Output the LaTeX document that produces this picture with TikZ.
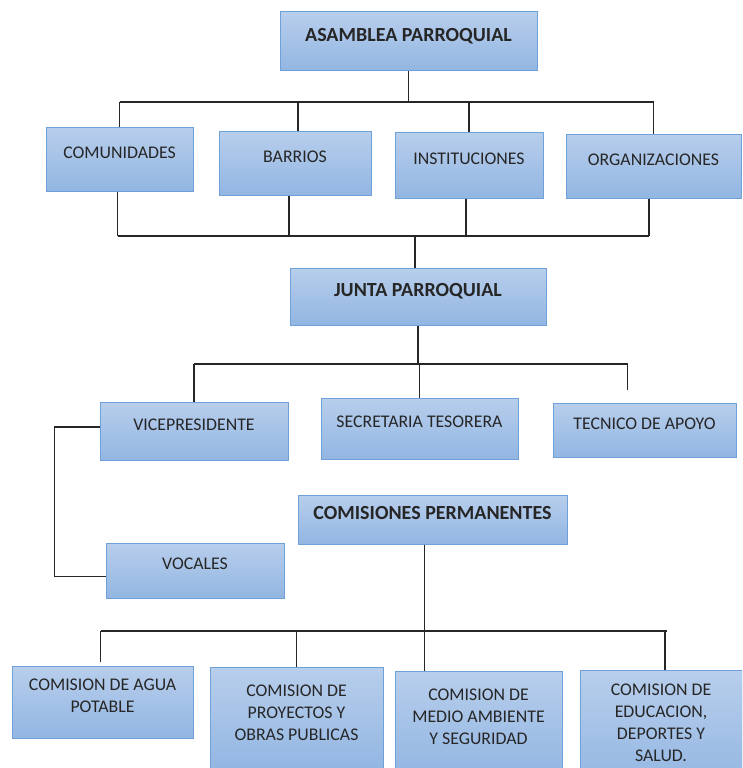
\documentclass[tikz,border=0pt]{standalone}
\usepackage{fontspec}
\setmainfont{Carlito}
\usetikzlibrary{positioning}

\definecolor{boxtop}{RGB}{184,206,236}
\definecolor{boxbottom}{RGB}{146,182,226}
\definecolor{boxline}{RGB}{110,160,218}

\begin{document}
\begin{tikzpicture}[
	x=1pt,
	y=-1pt,
	line width=1.3pt,
	every node/.style={font=\fontsize{17.8}{22}\selectfont}
]

\tikzstyle{org}  = [rectangle, draw=boxline, line width=1pt, top color=boxtop, bottom color=boxbottom,
                    inner sep=0pt, align=center, text depth=13pt, text=black!85];
\tikzstyle{head} = [org, font=\fontsize{20}{24}\selectfont\bfseries];
\tikzstyle{link} = [draw=black!85, line width=1.3pt];

\useasboundingbox[fill=white] (0,0) rectangle (742,768);
\clip (0,0) rectangle (742,768);

 \node [head, minimum width=257, minimum height=59]  (asamblea)       at (408.5,41.5) {ASAMBLEA PARROQUIAL};
 \node [org,  minimum width=147, minimum height=64]  (comunidades)    at (119.5,159)  {COMUNIDADES};
 \node [org,  minimum width=152, minimum height=64]  (barrios)        at (295,163)    {BARRIOS};
 \node [org,  minimum width=148, minimum height=66]  (instituciones)  at (469,165)    {INSTITUCIONES};
 \node [org,  minimum width=175, minimum height=64]  (organizaciones) at (653.5,166)  {ORGANIZACIONES};
 \node [head, minimum width=256, minimum height=57]  (junta)          at (418,296.5)  {JUNTA PARROQUIAL};
 \node [org,  minimum width=188, minimum height=58]  (vice)           at (194,431)    {VICEPRESIDENTE};
 \node [org,  minimum width=197, minimum height=61]  (secretaria)     at (419.5,428.5){SECRETARIA TESORERA};
 \node [org,  minimum width=183, minimum height=54]  (tecnico)        at (644.5,430)  {TECNICO DE APOYO};
 \node [head, minimum width=269, minimum height=49]  (comisiones)     at (432.5,519.5){COMISIONES PERMANENTES};
 \node [org,  minimum width=178, minimum height=55]  (vocales)        at (195,570.5)  {VOCALES};
 \node [org,  minimum width=181, minimum height=72]  (agua)           at (102.5,702)  {COMISION DE AGUA\\POTABLE};
 \node [org,  minimum width=173, minimum height=104] (proyectos)      at (296.5,719)  {COMISION DE\\PROYECTOS Y\\OBRAS PUBLICAS};
 \node [org,  minimum width=167, minimum height=104] (medio)          at (478.5,723)  {COMISION DE\\MEDIO AMBIENTE\\Y SEGURIDAD};
 \node [org,  minimum width=162, minimum height=119] (educacion)      at (661,729.5)  {COMISION DE\\EDUCACION,\\DEPORTES Y\\SALUD.};

 \coordinate (topbus)   at (0,102);
 \coordinate (midbus)   at (0,236);
 \coordinate (juntabus) at (0,364);
 \coordinate (combus)   at (0,631);
 \coordinate (tecstub)  at ([xshift=-17pt, yshift=13pt]tecnico.north);

 \draw [link] (asamblea.south) -- (asamblea.south |- topbus);
 \draw [link] (comunidades.north |- topbus) -- (organizaciones.north |- topbus);
 \foreach \n/\dx in {comunidades/0, barrios/3, instituciones/0, organizaciones/0}
   \draw [link] ([xshift=\dx pt]\n.north) -- ([xshift=\dx pt]\n.north |- topbus);

 \draw [link] ([xshift=-2pt]comunidades.south |- midbus) -- ([xshift=-4.5pt]organizaciones.south |- midbus);
 \foreach \n/\dx in {comunidades/-2, barrios/-6, instituciones/-3, organizaciones/-4.5}
   \draw [link] ([xshift=\dx pt]\n.south) -- ([xshift=\dx pt]\n.south |- midbus);
 \draw [link] ([xshift=-3pt]junta.north) -- ([xshift=-3pt]junta.north |- midbus);

 \draw [link] (junta.south) -- (junta.south |- juntabus);
 \draw [link] (vice.north |- juntabus) -- (tecstub |- juntabus) -- (tecstub);
 \draw [link] (vice.north) -- (vice.north |- juntabus);
 \draw [link] (secretaria.north) -- (secretaria.north |- juntabus);

 \draw [link] ([yshift=4pt]vice.west) -- ++(-45,0) |- ([yshift=-6pt]vocales.west);

 \draw [link] ([xshift=-8pt]comisiones.south) -- ([xshift=-8pt]comisiones.south |- medio.north);
 \draw [link] ([xshift=-2pt]agua.north |- combus) -- ([xshift=6pt]educacion.north |- combus);
 \draw [link] ([xshift=-2pt, yshift=4pt]agua.north) -- ([xshift=-2pt]agua.north |- combus);
 \draw [link] (proyectos.north) -- (proyectos.north |- combus);
 \draw [link] ([xshift=4pt]educacion.north) -- ([xshift=4pt]educacion.north |- combus);

\end{tikzpicture}
\end{document}
